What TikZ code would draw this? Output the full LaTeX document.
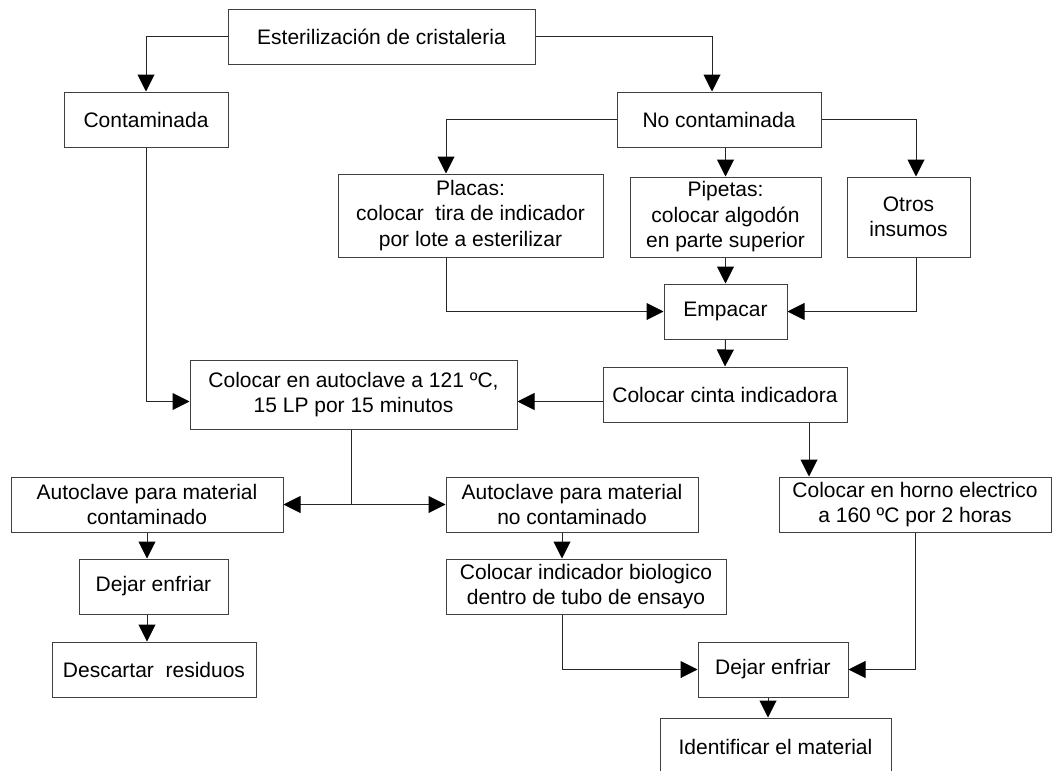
\documentclass[tikz,border=0pt]{standalone}
\usepackage{fontspec}
\setmainfont{Liberation Sans}
\usetikzlibrary{arrows.meta}
\begin{document}
\begin{tikzpicture}[x=1pt,y=-1pt,
  box/.style={draw=black!75, line width=1pt, inner sep=0pt, align=center,
    font=\fontsize{21}{25.5}\selectfont},
  link/.style={draw=black!85, line width=1pt},
  tip/.tip={Triangle[length=17pt,width=17pt,fill=black,color=black]},
  arr/.style={link, -tip},
  darr/.style={link, tip-tip}]
\useasboundingbox (0,0) rectangle (1061,771);
\clip (0,0) rectangle (1061,771);

% boxes
\node[box, minimum width=307, minimum height=55] (top) at (381.5,36.5) {Esterilización de cristaleria};
\node[box, minimum width=164, minimum height=55] (cont) at (146,119.5) {Contaminada};
\node[box, minimum width=204, minimum height=55] (nocont) at (719,119.5) {No contaminada};
\node[box, minimum width=265, minimum height=83] (placas) at (470.5,215.5) {Placas:\\colocar\ \ tira de indicador\\por lote a esterilizar};
\node[box, minimum width=191, minimum height=80] (pipetas) at (725.5,217) {Pipetas:\\colocar algodón\\en parte superior};
\node[box, minimum width=123, minimum height=80] (otros) at (908.5,217) {Otros\\insumos};
\node[box, minimum width=123, minimum height=55] (empacar) at (725.5,311.5) {Empacar};
\node[box, minimum width=244, minimum height=55] (cinta) at (725,394.5) {Colocar cinta indicadora};
\node[box, minimum width=327, minimum height=69] (autoc) at (353.5,394.5) {Colocar en autoclave a 121 ºC,\\15 LP por 15 minutos};
\node[box, minimum width=272, minimum height=55] (acont) at (147,504.5) {Autoclave para material\\contaminado};
\node[box, minimum width=252, minimum height=55] (anocont) at (572,504.5) {Autoclave para material\\no contaminado};
\node[box, minimum width=272, minimum height=55] (horno) at (915,504.5) {Colocar en horno electrico\\a 160 ºC por 2 horas};
\node[box, minimum width=149, minimum height=55] (dej1) at (153.5,586.5) {Dejar enfriar};
\node[box, minimum width=204, minimum height=55] (desc) at (154,669.5) {Descartar\ \ residuos};
\node[box, minimum width=280, minimum height=55] (indic) at (586,586.5) {Colocar indicador biologico\\dentro de tubo de ensayo};
\node[box, minimum width=150, minimum height=55] (dej2) at (773,669.5) {Dejar enfriar};
\node[box, minimum width=231, minimum height=57] (ident) at (775.5,746.5) {Identificar el material};

% connectors
\draw[arr] (top.west) -| (cont.north);
\draw[arr] (top.east) -| ([xshift=-7]nocont.north);
\draw[arr] (nocont.west) -| ([xshift=-24.5]placas.north);
\draw[arr] (pipetas.north |- nocont.south) -- (pipetas.north);
\draw[arr] (nocont.east) -| ([xshift=7.5]otros.north);
\draw[arr] (pipetas.south) -- (empacar.north);
\draw[arr] ([xshift=-24.5]placas.south) |- (empacar.west);
\draw[arr] ([xshift=7.5]otros.south) |- (empacar.east);
\draw[arr] (empacar.south) -- (cinta.north);
\draw[arr] ([yshift=-7]cinta.west) -- ([yshift=-7]autoc.east);
\draw[arr] (cont.south) |- ([yshift=-7]autoc.west);
\coordinate (split) at ([xshift=-2.5]autoc.south |- acont.east);
\draw[link] ([xshift=-2.5]autoc.south) -- (split);
\draw[darr] (acont.east) -- (anocont.west);
\draw[arr] (acont.south) -- (acont.south |- dej1.north);
\draw[arr] (acont.south |- dej1.south) -- (acont.south |- desc.north);
\draw[arr] ([xshift=-10]anocont.south) -- ([xshift=-10]anocont.south |- indic.north);
\draw[arr] ([xshift=-10]anocont.south |- indic.south) |- (dej2.west);
\draw[arr] (horno.south) |- (dej2.east);
\draw[arr] ([xshift=84]cinta.south) -- ([xshift=84]cinta.south |- horno.north);
\draw[arr] ([xshift=-5]dej2.south) -- ([xshift=-5]dej2.south |- ident.north);
\end{tikzpicture}
\end{document}
